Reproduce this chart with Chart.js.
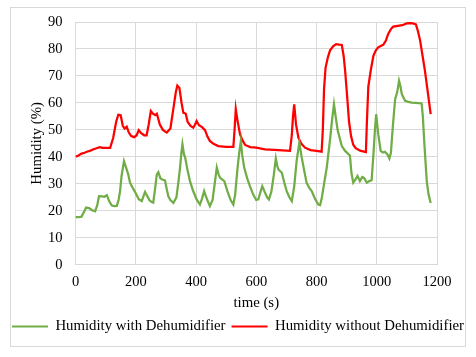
<!DOCTYPE html>
<html>
<head>
<meta charset="utf-8">
<script src="https://cdn.jsdelivr.net/npm/chart.js@4"></script>
<style>
html,body{margin:0;padding:0;background:#fff;}
#wrap{position:absolute;left:0;top:0;width:476px;height:357px;}
</style>
</head>
<body>
<div id="wrap"><canvas id="c" width="476" height="357"></canvas></div>
<script>
const seriesNames = ["Humidity with Dehumidifier", "Humidity without Dehumidifier"];
const xTicks = [0, 200, 400, 600, 800, 1000, 1200];
const yTicks = [0, 10, 20, 30, 40, 50, 60, 70, 80, 90];

const timeWith = [0,10,20,28,35,45,55,65,72,78,88,96,104,112,120,128,137,143,148,153,161,168,175,181,190,200,210,220,226,231,238,245,253,258,264,270,275,282,290,297,303,308,315,325,335,342,347,352,355,360,364,372,380,390,402,413,420,427,434,446,455,462,469,475,480,494,505,515,524,530,538,544,549,553,560,570,579,590,600,607,614,620,628,636,642,650,658,665,670,674,685,693,701,710,718,726,734,743,751,759,767,776,784,795,806,812,818,825,834,845,852,858,864,870,878,884,895,906,911,916,922,929,936,944,952,958,967,975,983,989,994,998,1005,1013,1020,1027,1035,1042,1047,1053,1061,1068,1074,1079,1083,1094,1105,1116,1130,1149,1153,1158,1166,1172,1179];
const humidityWith = [17.6,17.6,17.8,19.5,21.2,21,20.2,19.8,22,25.4,25.3,25.2,25.8,23.5,22,21.7,21.8,24,27.3,33,38.4,36,33.5,30.4,28.5,26.5,24.3,23.6,25.5,27,25.5,24,23.2,23,28,33.5,34.3,32,31.5,31.3,28,25.4,24,22.9,25,31,36,42,44.7,41,39.7,35,31,27.5,24.2,22.3,24.5,27.3,25,21.7,24,30,36,33.5,32.2,31,27,24,22.3,26,36,42,45.9,41,36,32,29.1,26,24,24.2,27,29.1,27,25,24.2,27,33,39.4,36.5,35.3,34.1,30.5,27.3,25,23.6,29,38.4,45.3,39.7,35,30.4,28.5,27.3,24.5,22.3,22.1,25,30,36,46.5,54,59.5,54.6,50,46.5,44,42.2,41,40.5,34,30.4,31.5,32.9,31,32.5,32.2,30.4,31,31.3,40.9,50,55.8,48.4,42.2,41.6,41.9,41,39.4,41.5,50.8,61.4,64,68.2,66,63.3,60.8,60.4,60.1,60,59.8,55,45,31,26,22.9];

const timeWithout = [0,10,20,30,40,50,60,70,80,90,115,125,135,142,150,157,163,170,177,185,195,203,210,218,228,236,243,250,257,265,270,280,290,303,315,325,333,338,345,352,358,366,372,382,391,397,402,410,420,430,438,446,458,474,500,524,528,532,537,546,555,563,580,600,629,660,712,718,722,726,732,740,750,762,780,800,817,821,825,830,838,845,855,865,875,884,890,895,902,908,915,922,930,945,964,967,972,980,989,997,1005,1015,1022,1030,1038,1048,1055,1070,1085,1099,1110,1120,1130,1137,1144,1152,1160,1170,1179];
const humidityWithout = [40,40.5,41.2,41.5,42,42.3,42.8,43.2,43.6,43.3,43.3,47,53,55.6,55.4,51.5,50.5,51.2,49,47.7,47.3,48,49.9,48.8,48,48,52,57,56,55.5,56,52,50,49,50.5,58,64,66.4,65.5,60,56.4,56,53,51.5,50.8,52,53.3,51.7,51,49.9,47.5,45.9,44.8,44,43.7,43.7,50,57.7,54,48.4,46,44.4,43.6,43.4,42.8,42.6,42.2,48,55,59.5,52,47.1,44.8,43.4,42.5,42.2,41.9,50,65,73,77,79.5,81,81.8,81.6,81.5,77.5,72,62,53,47.5,44.5,43.2,42.3,41.8,52,66,72,77.5,79.5,80.6,81.2,81.6,83,85.6,87.5,88.3,88.6,88.8,89.5,89.6,89.5,89.1,86.5,83.1,77.5,71.9,63.5,55.8];

const toPts = (xs, ys) => xs.map((x, i) => ({x: x, y: ys[i]}));

const FONT = "'Liberation Serif', 'Times New Roman', serif";
const GRID = '#d9d9d9';

const borderPlugin = {
  id: 'outerBorder',
  beforeDraw(chart) {
    const ctx = chart.ctx;
    ctx.save();
    ctx.fillStyle = '#fff';
    ctx.fillRect(0, 0, chart.width, chart.height);
    ctx.strokeStyle = GRID;
    ctx.lineWidth = 1;
    ctx.strokeRect(10.5, 7.5, 455, 339);
    ctx.restore();
  }
};

new Chart(document.getElementById('c'), {
  type: 'line',
  data: {
    datasets: [
      {label: seriesNames[0], data: toPts(timeWith, humidityWith), borderColor: '#70ad47', backgroundColor: '#70ad47', borderWidth: 2.25, pointRadius: 0, tension: 0, fill: false},
      {label: seriesNames[1], data: toPts(timeWithout, humidityWithout), borderColor: '#ff0000', backgroundColor: '#ff0000', borderWidth: 2.25, pointRadius: 0, tension: 0, fill: false}
    ]
  },
  options: {
    responsive: false,
    animation: false,
    devicePixelRatio: 1,
    layout: {padding: {left: 0, right: 0, top: 22, bottom: 13}},
    plugins: {
      tooltip: {enabled: false},
      legend: {
        position: 'bottom',
        labels: {
          font: {family: FONT, size: 14.8},
          color: '#000',
          boxWidth: 36,
          boxHeight: 2,
          padding: 6,
          generateLabels(chart) {
            return chart.data.datasets.map((d, i) => ({
              text: d.label, fillStyle: d.borderColor, strokeStyle: d.borderColor,
              lineWidth: 0, hidden: false, datasetIndex: i, fontColor: '#000'
            }));
          }
        }
      }
    },
    scales: {
      x: {
        type: 'linear', min: 0, max: 1200,
        afterBuildTicks(s) { s.ticks = xTicks.map(v => ({value: v})); },
        afterFit(s) { s.height = 48.5; },
        grid: {color: GRID, drawTicks: false},
        border: {color: GRID},
        ticks: {font: {family: FONT, size: 14.5}, color: '#000', padding: 9, maxRotation: 0, callback: v => String(v)},
        title: {display: true, text: 'time (s)', font: {family: FONT, size: 14.8}, color: '#000', padding: {top: 2, bottom: 1}}
      },
      y: {
        type: 'linear', min: 0, max: 90,
        afterBuildTicks(s) { s.ticks = yTicks.map(v => ({value: v})); },
        afterFit(s) { s.width = 75.5; },
        grid: {color: GRID, drawTicks: false},
        border: {color: GRID},
        ticks: {font: {family: FONT, size: 14.5}, color: '#000', padding: 13, callback: v => String(v)},
        title: {display: true, text: 'Humidity (%)', font: {family: FONT, size: 14.8}, color: '#000', padding: {top: 28, bottom: 0}}
      },
      yRight: {
        type: 'linear', position: 'right', display: true,
        afterFit(s) { s.width = 39; },
        grid: {display: false, drawTicks: false},
        border: {display: false},
        ticks: {display: false}
      }
    }
  },
  plugins: [borderPlugin]
});
</script>
</body>
</html>
